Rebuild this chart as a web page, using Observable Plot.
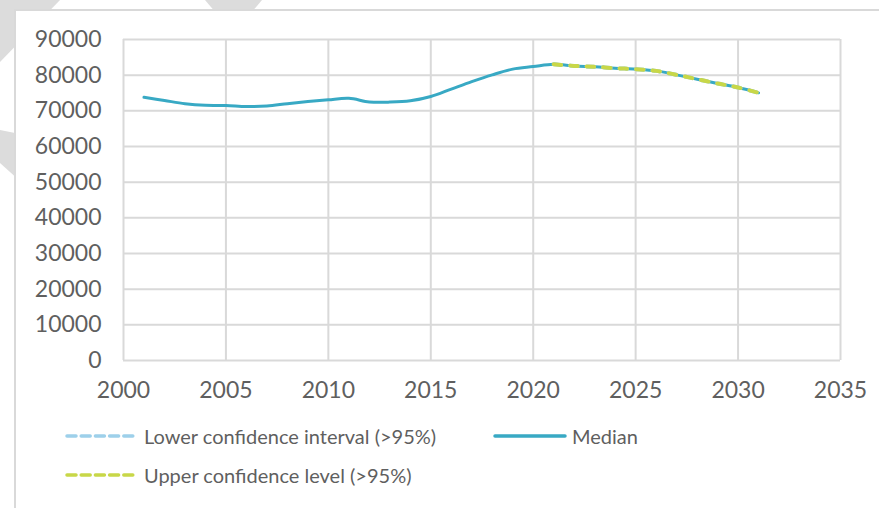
<!DOCTYPE html>
<html>
<head>
<meta charset="utf-8">
<script src="https://cdn.jsdelivr.net/npm/d3@7"></script>
<script src="https://cdn.jsdelivr.net/npm/@observablehq/plot@0.6"></script>
<style>
  html, body { margin: 0; padding: 0; width: 879px; height: 508px; overflow: hidden; background: #fff; }
  body { position: relative; font-family: Lato, "Open Sans", sans-serif; color: #5f5f5f; }
  #wm { position: absolute; left: 0; top: 0; z-index: 0; }
  #panel { position: absolute; left: 14px; top: 9px; right: -5px; bottom: -5px; background: #fff;
           border-left: 2px solid #d9d9d9; border-top: 2px solid #d9d9d9; z-index: 1; }
  #chart { position: absolute; left: 0; top: 0; z-index: 2; }
  #legend { position: absolute; left: 0; top: 0; width: 879px; height: 508px; z-index: 2; font-size: 20px; font-weight: 400; }
  .item { position: absolute; display: flex; align-items: center; white-space: nowrap; }
  .item svg { margin-right: 5px; }
</style>
</head>
<body>
<svg id="wm" width="879" height="508">
  <polygon points="0,0 60,0 0,62" fill="#dcdcdc"/>
  <polygon points="205,0 262,0 245,20 222,20" fill="#dcdcdc"/>
  <polygon points="0,130 30,136 30,190 0,163" fill="#dcdcdc"/>
</svg>
<div id="panel"></div>
<div id="chart"></div>
<div id="legend"></div>
<script>
const years = [2001, 2002, 2003, 2004, 2005, 2006, 2007, 2008, 2009, 2010,
               2011, 2012, 2013, 2014, 2015, 2016, 2017, 2018, 2019, 2020,
               2021, 2022, 2023, 2024, 2025, 2026, 2027, 2028, 2029, 2030, 2031];
const median = [73800, 72900, 72000, 71550, 71500, 71200, 71350, 72000, 72600, 73100,
                73500, 72500, 72450, 72800, 74000, 76100, 78200, 80100, 81700, 82400,
                83050, 82600, 82340, 81960, 81680, 81200, 80090, 78880, 77660, 76540, 75050];
const forecastYears = [2021, 2022, 2023, 2024, 2025, 2026, 2027, 2028, 2029, 2030, 2031];
const lowerCI = [83050, 82600, 82340, 81960, 81680, 81200, 80090, 78880, 77660, 76540, 75050];
const upperCI = [83050, 82600, 82340, 81960, 81680, 81200, 80090, 78880, 77660, 76540, 75050];
const xTicks = [2000, 2005, 2010, 2015, 2020, 2025, 2030, 2035];
const yTicks = [0, 10000, 20000, 30000, 40000, 50000, 60000, 70000, 80000, 90000];
const seriesNames = ["Lower confidence interval (>95%)", "Median", "Upper confidence level (>95%)"];
const colors = { median: "#38a9c4", lower: "#9dd0ea", upper: "#c8d748" };

const medianData = years.map((x, i) => ({ x, y: median[i] }));
const lowerData = forecastYears.map((x, i) => ({ x, y: lowerCI[i] }));
const upperData = forecastYears.map((x, i) => ({ x, y: upperCI[i] }));

const chart = Plot.plot({
  width: 879,
  height: 410,
  marginLeft: 123,
  marginRight: 39,
  marginTop: 39,
  marginBottom: 50,
  style: { fontFamily: "Lato, 'Open Sans', sans-serif", fontSize: "23px", fontWeight: 400, color: "#5f5f5f", background: "transparent", overflow: "visible" },
  x: { domain: [2000, 2035], label: null },
  y: { domain: [0, 90000], label: null },
  marks: [
    Plot.gridX(xTicks, { stroke: "#d9d9d9", strokeOpacity: 1, strokeWidth: 2 }),
    Plot.gridY(yTicks, { stroke: "#d9d9d9", strokeOpacity: 1, strokeWidth: 2 }),
    Plot.axisX({ ticks: xTicks, tickSize: 0, tickPadding: 21, tickFormat: d => String(d), fill: "#5f5f5f", label: null }),
    Plot.axisY({ ticks: yTicks, tickSize: 0, tickPadding: 22, tickFormat: d => String(d), fill: "#5f5f5f", label: null }),
    Plot.line(medianData, { x: "x", y: "y", stroke: colors.median, strokeWidth: 3, curve: "catmull-rom", strokeLinecap: "round" }),
    Plot.line(lowerData, { x: "x", y: "y", stroke: colors.lower, strokeWidth: 4, curve: "catmull-rom", strokeDasharray: "7.5,9", strokeLinecap: "round" }),
    Plot.line(upperData, { x: "x", y: "y", stroke: colors.upper, strokeWidth: 4, curve: "catmull-rom", strokeDasharray: "7.5,9", strokeLinecap: "round" })
  ]
});
document.getElementById("chart").appendChild(chart);

function swatch(color, dashed) {
  const ns = "http://www.w3.org/2000/svg";
  const s = document.createElementNS(ns, "svg");
  s.setAttribute("width", 74); s.setAttribute("height", 8);
  const l = document.createElementNS(ns, "line");
  l.setAttribute("x1", 2); l.setAttribute("x2", 72); l.setAttribute("y1", 4); l.setAttribute("y2", 4);
  l.setAttribute("stroke", color); l.setAttribute("stroke-width", 3.5);
  l.setAttribute("stroke-linecap", "round");
  if (dashed) l.setAttribute("stroke-dasharray", "9,5.2");
  s.appendChild(l);
  return s;
}
const legendItems = [
  { name: seriesNames[0], color: colors.lower, dashed: true, left: 65, top: 424 },
  { name: seriesNames[1], color: colors.median, dashed: false, left: 493, top: 424 },
  { name: seriesNames[2], color: colors.upper, dashed: true, left: 65, top: 463 }
];
const leg = document.getElementById("legend");
for (const it of legendItems) {
  const d = document.createElement("div");
  d.className = "item";
  d.style.left = it.left + "px"; d.style.top = it.top + "px";
  d.appendChild(swatch(it.color, it.dashed));
  const t = document.createElement("span"); t.textContent = it.name;
  d.appendChild(t);
  leg.appendChild(d);
}
</script>
</body>
</html>
